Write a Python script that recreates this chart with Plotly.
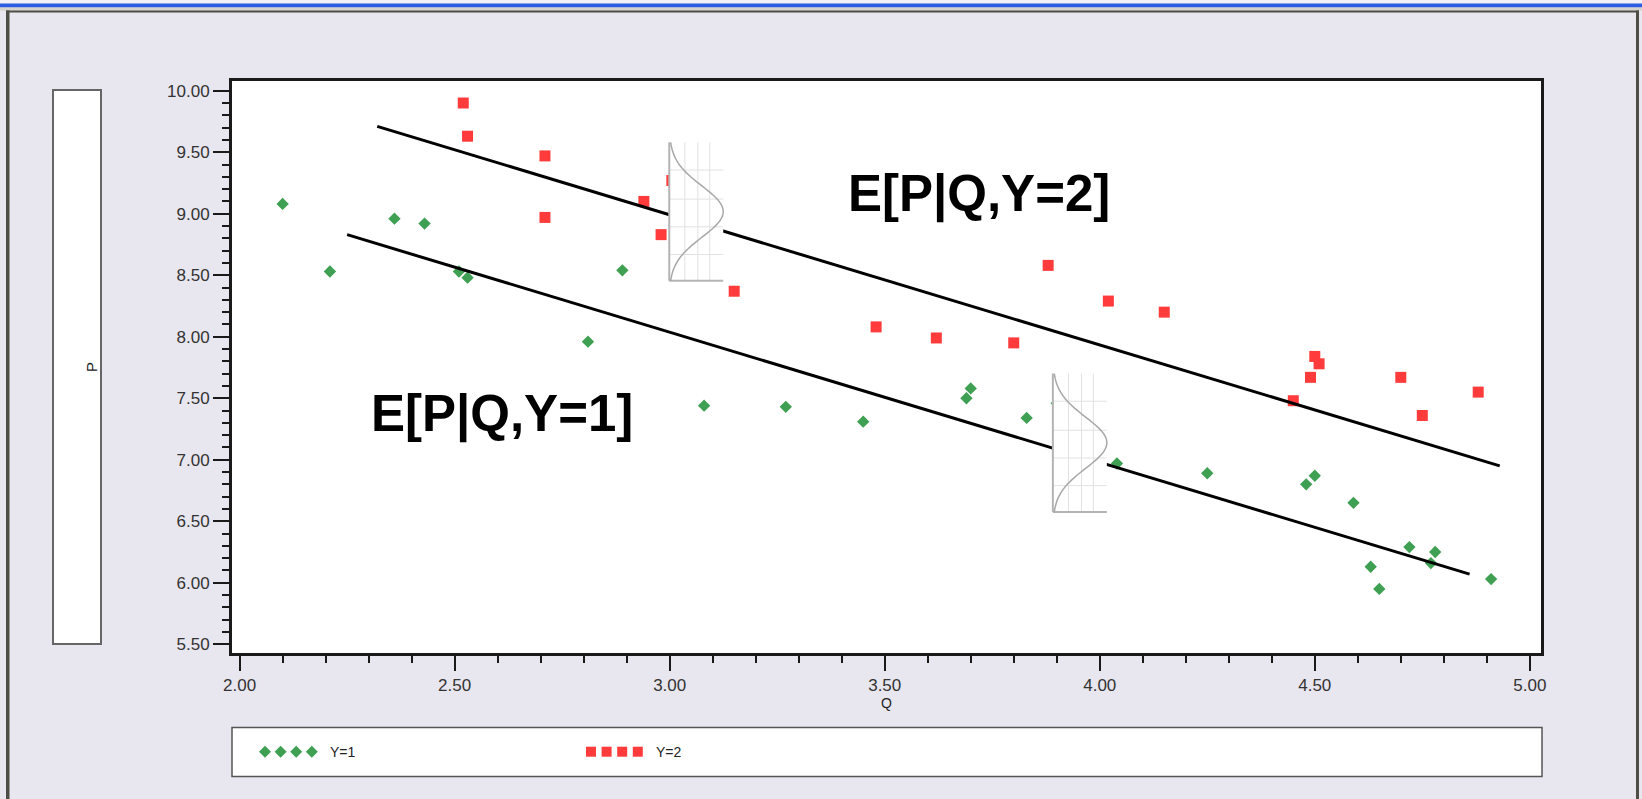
import numpy as np
import plotly.graph_objects as go

# ---------------- data ----------------
q_y1 = [2.10, 2.21, 2.36, 2.43, 2.51, 2.53, 2.81, 2.89, 3.08, 3.27, 3.45, 3.70, 3.69,
        3.83, 3.90, 4.04, 4.25, 4.48, 4.50, 4.59, 4.63, 4.65, 4.72, 4.78, 4.77, 4.91]
p_y1 = [9.08, 8.53, 8.96, 8.92, 8.53, 8.48, 7.96, 8.54, 7.44, 7.43, 7.31, 7.58, 7.50,
        7.34, 7.46, 6.97, 6.89, 6.80, 6.87, 6.65, 6.13, 5.95, 6.29, 6.25, 6.16, 6.03]
q_y2 = [2.52, 2.53, 2.71, 2.71, 2.94, 2.98, 3.005, 3.15, 3.48, 3.62, 3.80, 3.88, 4.02,
        4.15, 4.45, 4.49, 4.50, 4.51, 4.70, 4.75, 4.88]
p_y2 = [9.90, 9.63, 9.47, 8.97, 9.10, 8.83, 9.27, 8.37, 8.08, 7.99, 7.95, 8.58, 8.29,
        8.20, 7.48, 7.67, 7.84, 7.78, 7.67, 7.36, 7.55]

series_names = ["Y=1", "Y=2"]
series_colors = ["#3f9f52", "#ff3b3b"]

# conditional-mean lines E[P|Q,Y]
fit_labels = ["E[P|Q,Y=1]", "E[P|Q,Y=2]"]
fit_q = [[2.25, 4.86], [2.32, 4.93]]
fit_p = [[8.83, 6.07], [9.71, 6.95]]
label_q = [2.61, 3.72]
label_p = [7.375, 9.16]

x_ticks = [2.0, 2.5, 3.0, 3.5, 4.0, 4.5, 5.0]
x_ticklabels = ["2.00", "2.50", "3.00", "3.50", "4.00", "4.50", "5.00"]
y_ticks = [5.5, 6.0, 6.5, 7.0, 7.5, 8.0, 8.5, 9.0, 9.5, 10.0]
y_ticklabels = ["5.50", "6.00", "6.50", "7.00", "7.50", "8.00", "8.50", "9.00", "9.50", "10.00"]

# ---------------- layout geometry ----------------
W, H = 1642, 799
L, R, T, B = 232, 101, 81, 146
PW, PH = W - L - R, H - T - B
X_RANGE = [1.9823, 5.026]
Y_RANGE = [5.4292, 10.0789]


def px(x):
    return (x - L) / PW


def py(y):
    return 1 - (y - T) / PH


FONT = "Liberation Sans, Arial, sans-serif"
AX = "#1a1a1a"

fig = go.Figure()

fig.add_trace(go.Scatter(x=q_y1, y=p_y1, mode="markers", name=series_names[0],
                         marker=dict(symbol="diamond", size=9.5, color=series_colors[0]),
                         showlegend=False))
fig.add_trace(go.Scatter(x=q_y2, y=p_y2, mode="markers", name=series_names[1],
                         marker=dict(symbol="square", size=11, color=series_colors[1]),
                         showlegend=False))
for lab, xs, ys in zip(fit_labels, fit_q, fit_p):
    fig.add_trace(go.Scatter(x=xs, y=ys, mode="lines", name=lab,
                             line=dict(color="black", width=3), showlegend=False))

shapes = []

# ---- window frame decoration ----
shapes += [
    dict(type="rect", xref="paper", yref="paper", x0=px(0), x1=px(W), y0=py(0), y1=py(3.5),
         fillcolor="#f2f2f6", line=dict(width=0), layer="below"),
    dict(type="rect", xref="paper", yref="paper", x0=px(0), x1=px(W), y0=py(3.5), y1=py(7.5),
         fillcolor="#2b5de2", line=dict(width=0), layer="below"),
    dict(type="rect", xref="paper", yref="paper", x0=px(0), x1=px(W), y0=py(7.5), y1=py(10.5),
         fillcolor="#d3d2cc", line=dict(width=0), layer="below"),
    dict(type="rect", xref="paper", yref="paper", x0=px(6), x1=px(1639), y0=py(10.5), y1=py(12.5),
         fillcolor="#4f4e46", line=dict(width=0), layer="below"),
    dict(type="rect", xref="paper", yref="paper", x0=px(6), x1=px(9.5), y0=py(10.5), y1=py(H),
         fillcolor="#4f4e46", line=dict(width=0), layer="below"),
    dict(type="rect", xref="paper", yref="paper", x0=px(1636), x1=px(1639), y0=py(10.5), y1=py(H),
         fillcolor="#4f4e46", line=dict(width=0), layer="below"),
]

# ---- y-title box ----
shapes.append(dict(type="rect", xref="paper", yref="paper", x0=px(53), x1=px(101),
                   y0=py(644), y1=py(90), fillcolor="white",
                   line=dict(color="#666666", width=2), layer="below"))

# ---- legend box ----
shapes.append(dict(type="rect", xref="paper", yref="paper", x0=px(232), x1=px(1542),
                   y0=py(776.5), y1=py(727.5), fillcolor="white",
                   line=dict(color="#555555", width=1.5), layer="below"))

leg_y = 751.7
leg_sym_start = [265.0, 591.0]
leg_text_x = [328.0, 654.0]
for i in range(4):
    cx = leg_sym_start[0] + i * 15.6
    r = 6.0
    path = (f"M {px(cx - r)},{py(leg_y)} L {px(cx)},{py(leg_y - r)} "
            f"L {px(cx + r)},{py(leg_y)} L {px(cx)},{py(leg_y + r)} Z")
    shapes.append(dict(type="path", xref="paper", yref="paper", path=path,
                       fillcolor=series_colors[0], line=dict(width=0)))
    cx = leg_sym_start[1] + i * 15.6
    s = 5.0
    shapes.append(dict(type="rect", xref="paper", yref="paper", x0=px(cx - s), x1=px(cx + s),
                       y0=py(leg_y + s), y1=py(leg_y - s),
                       fillcolor=series_colors[1], line=dict(width=0)))

# ---- normal-density glyphs sitting on the conditional-mean lines ----
glyph_left = [3.891, 2.999]
glyph_bottom = [6.576, 8.455]
GW, GH = 0.1255, 1.125
for gx, gy in zip(glyph_left, glyph_bottom):
    shapes.append(dict(type="rect", xref="x", yref="y", x0=gx, x1=gx + GW, y0=gy, y1=gy + GH,
                       fillcolor="white", line=dict(width=0), layer="above"))
    for f in [0.29, 0.53, 0.75]:
        shapes.append(dict(type="line", xref="x", yref="y", x0=gx + f * GW, x1=gx + f * GW,
                           y0=gy, y1=gy + GH, line=dict(color="#e2e2e2", width=1), layer="above"))
    for g in [0.19, 0.39, 0.59, 0.80]:
        shapes.append(dict(type="line", xref="x", yref="y", x0=gx, x1=gx + GW,
                           y0=gy + g * GH, y1=gy + g * GH,
                           line=dict(color="#e2e2e2", width=1), layer="above"))
    shapes.append(dict(type="line", xref="x", yref="y", x0=gx, x1=gx, y0=gy, y1=gy + GH,
                       line=dict(color="#b4b4b4", width=2), layer="above"))
    shapes.append(dict(type="line", xref="x", yref="y", x0=gx, x1=gx + GW, y0=gy, y1=gy,
                       line=dict(color="#b4b4b4", width=2), layer="above"))
    t = np.linspace(-1, 1, 61)
    yc = gy + GH / 2
    sig = (GH / 2) / 2.7
    cx = gx + GW * np.exp(-0.5 * ((t * GH / 2) / sig) ** 2)
    cy = yc + t * GH / 2
    path = "M " + " L ".join(f"{a:.5f},{b:.5f}" for a, b in zip(cx, cy))
    shapes.append(dict(type="path", xref="x", yref="y", path=path,
                       line=dict(color="#a8a8a8", width=1.5), layer="above"))

annotations = []
for lab, lx, ly in zip(fit_labels, label_q, label_p):
    annotations.append(dict(x=lx, y=ly, xref="x", yref="y", text=f"<b>{lab}</b>",
                            showarrow=False, xanchor="center", yanchor="middle",
                            font=dict(family=FONT, size=51, color="black")))
for name, tx in zip(series_names, leg_text_x):
    annotations.append(dict(x=px(tx), y=py(leg_y), xref="paper", yref="paper", text=name,
                            showarrow=False, xanchor="left", yanchor="middle",
                            font=dict(family=FONT, size=14, color="#222222")))

fig.update_layout(
    width=W, height=H,
    margin=dict(l=L, r=R, t=T, b=B, autoexpand=False),
    paper_bgcolor="#e8e6ee",
    plot_bgcolor="white",
    shapes=shapes,
    annotations=annotations,
    showlegend=False,
    xaxis=dict(range=X_RANGE, tickvals=x_ticks, ticktext=x_ticklabels,
               ticks="outside", ticklen=15, tickwidth=2, tickcolor=AX,
               minor=dict(dtick=0.1, tick0=2.0, ticks="outside", ticklen=7,
                          tickwidth=2, tickcolor=AX),
               showline=True, linewidth=3, linecolor=AX, mirror=True,
               showgrid=False, zeroline=False,
               tickfont=dict(family=FONT, size=17, color="#333333"),
               title=dict(text="Q", standoff=0, font=dict(family=FONT, size=14, color="#222222"))),
    yaxis=dict(range=Y_RANGE, tickvals=y_ticks, ticktext=y_ticklabels,
               ticks="outside", ticklen=16, tickwidth=2, tickcolor=AX,
               minor=dict(dtick=0.1, tick0=5.5, ticks="outside", ticklen=7,
                          tickwidth=2, tickcolor=AX),
               showline=True, linewidth=3, linecolor=AX, mirror=True,
               showgrid=False, zeroline=False,
               tickfont=dict(family=FONT, size=17, color="#333333"),
               title=dict(text="P", standoff=66, font=dict(family=FONT, size=15, color="#222222"))),
)

fig.write_html("out.html")
